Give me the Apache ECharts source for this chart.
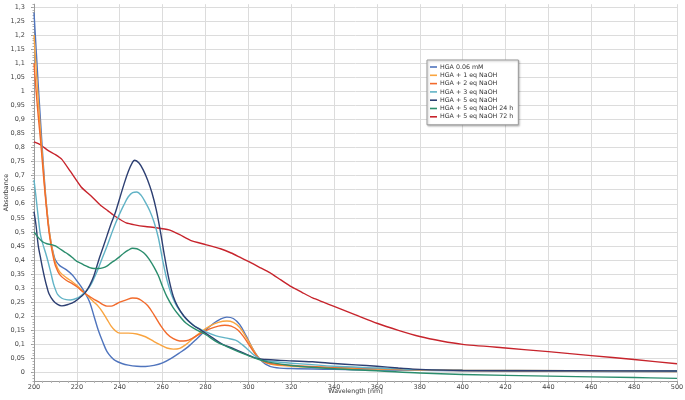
<!DOCTYPE html>
<html>
<head>
<meta charset="utf-8">
<script src="https://cdn.jsdelivr.net/npm/echarts@6/dist/echarts.min.js"></script>
<style>html,body{margin:0;padding:0;background:#fff;}#c{width:685px;height:400px;}</style>
</head>
<body>
<div id="c"></div>
<script>
const seriesNames = ["HGA 0.06 mM","HGA + 1 eq NaOH","HGA + 2 eq NaOH","HGA + 3 eq NaOH","HGA + 5 eq NaOH","HGA + 5 eq NaOH 24 h","HGA + 5 eq NaOH 72 h"];
const xTicks = [200,220,240,260,280,300,320,340,360,380,400,420,440,460,480,500];
const yTicks = [0,0.05,0.1,0.15,0.2,0.25,0.3,0.35,0.4,0.45,0.5,0.55,0.6,0.65,0.7,0.75,0.8,0.85,0.9,0.95,1,1.05,1.1,1.15,1.2,1.25,1.3];

const hga006 = [[200,1.28],[201,1.15],[202,1.02],[203,0.9],[204,0.78],[205,0.67],[206,0.58],[207,0.51],[208,0.46],[209,0.425],[210,0.4],[212,0.38],[215,0.366],[218,0.346],[220,0.326],[222,0.305],[224,0.28],[226,0.25],[228,0.2],[230,0.15],[232,0.11],[234,0.075],[236,0.055],[238,0.042],[241,0.032],[244,0.026],[248,0.022],[252,0.021],[256,0.025],[260,0.034],[264,0.05],[268,0.07],[272,0.092],[276,0.12],[280,0.15],[284,0.176],[287,0.19],[290,0.197],[293,0.192],[296,0.17],[299,0.13],[302,0.085],[305,0.05],[308,0.03],[312,0.018],[320,0.014],[340,0.011],[360,0.009],[400,0.006],[450,0.004],[500,0.003]];
const eq1 = [[200,1.2],[201,1.08],[202,0.97],[203,0.86],[204,0.76],[205,0.66],[206,0.58],[207,0.51],[208,0.46],[209,0.42],[210,0.39],[212,0.358],[215,0.338],[218,0.322],[220,0.31],[222,0.295],[224,0.28],[226,0.265],[228,0.25],[230,0.235],[232,0.215],[234,0.19],[236,0.165],[238,0.148],[240,0.14],[244,0.14],[248,0.137],[252,0.127],[256,0.11],[259,0.098],[262,0.087],[265,0.083],[268,0.086],[271,0.1],[274,0.12],[278,0.145],[282,0.165],[286,0.178],[290,0.183],[293,0.178],[296,0.16],[299,0.125],[302,0.085],[305,0.05],[308,0.035],[312,0.027],[320,0.022],[340,0.016],[360,0.012],[380,0.009],[400,0.007],[450,0.005],[500,0.003]];
const eq2 = [[200,1.1],[201,1.0],[202,0.91],[203,0.83],[204,0.74],[205,0.65],[206,0.57],[207,0.5],[208,0.45],[209,0.41],[210,0.38],[212,0.348],[215,0.328],[218,0.315],[220,0.305],[222,0.292],[224,0.28],[226,0.27],[228,0.26],[230,0.252],[232,0.242],[234,0.236],[236,0.236],[238,0.242],[240,0.25],[243,0.258],[246,0.265],[248,0.264],[250,0.257],[253,0.238],[256,0.205],[259,0.168],[262,0.138],[265,0.12],[268,0.112],[271,0.113],[274,0.122],[278,0.14],[282,0.155],[286,0.165],[289,0.168],[292,0.165],[295,0.152],[298,0.125],[301,0.09],[304,0.058],[307,0.04],[310,0.032],[320,0.025],[340,0.018],[360,0.014],[380,0.01],[400,0.008],[450,0.006],[500,0.005]];
const eq3 = [[200,0.685],[201,0.62],[202,0.55],[203,0.49],[204,0.46],[206,0.41],[208,0.35],[209,0.318],[210,0.295],[211,0.278],[213,0.264],[215,0.259],[217,0.258],[220,0.264],[222,0.274],[224,0.287],[226,0.305],[228,0.335],[230,0.37],[232,0.41],[234,0.448],[236,0.49],[238,0.53],[240,0.565],[242,0.597],[244,0.625],[246,0.64],[248,0.642],[250,0.63],[252,0.605],[254,0.575],[256,0.535],[258,0.48],[260,0.4],[262,0.33],[264,0.28],[266,0.245],[268,0.22],[271,0.19],[275,0.165],[280,0.145],[285,0.13],[290,0.122],[294,0.115],[297,0.1],[300,0.08],[303,0.06],[306,0.046],[310,0.04],[320,0.033],[340,0.022],[360,0.016],[380,0.01],[400,0.008],[450,0.006],[500,0.005]];
const eq5 = [[200,0.572],[201,0.52],[202,0.45],[203,0.41],[204,0.37],[205,0.335],[206,0.305],[207,0.28],[209,0.255],[211,0.242],[213,0.237],[216,0.242],[219,0.252],[222,0.27],[224,0.285],[226,0.31],[228,0.345],[230,0.395],[232,0.44],[234,0.485],[236,0.53],[238,0.57],[240,0.62],[242,0.67],[244,0.715],[246,0.748],[247,0.755],[249,0.745],[251,0.72],[253,0.685],[255,0.64],[257,0.58],[259,0.5],[261,0.41],[263,0.33],[265,0.27],[267,0.235],[270,0.2],[274,0.17],[278,0.15],[283,0.125],[288,0.1],[292,0.088],[296,0.075],[300,0.062],[304,0.05],[308,0.046],[315,0.043],[330,0.038],[340,0.032],[350,0.027],[360,0.022],[370,0.016],[380,0.011],[400,0.007],[450,0.006],[500,0.005]];
const eq5h24 = [[200,0.5],[202,0.48],[204,0.465],[206,0.458],[208,0.455],[210,0.45],[212,0.44],[214,0.43],[216,0.42],[218,0.408],[220,0.395],[222,0.388],[224,0.38],[226,0.373],[228,0.37],[230,0.37],[232,0.372],[234,0.378],[236,0.39],[238,0.4],[240,0.412],[242,0.425],[244,0.435],[246,0.442],[248,0.44],[250,0.432],[252,0.42],[254,0.4],[256,0.375],[258,0.345],[260,0.305],[262,0.27],[265,0.23],[268,0.2],[271,0.175],[275,0.155],[280,0.135],[285,0.11],[290,0.092],[295,0.075],[300,0.06],[305,0.046],[310,0.036],[320,0.025],[340,0.013],[360,0.006],[380,-0.002],[400,-0.007],[440,-0.013],[480,-0.018],[500,-0.021]];
const eq5h72 = [[200,0.82],[203,0.81],[206.5,0.79],[210,0.775],[213,0.758],[217,0.715],[222,0.66],[227,0.625],[231,0.595],[234.5,0.575],[237,0.56],[240,0.545],[243,0.532],[247,0.525],[252,0.519],[257,0.515],[263,0.507],[268,0.49],[273,0.47],[280,0.455],[287,0.44],[292,0.425],[296,0.41],[300,0.395],[305,0.375],[310,0.355],[315,0.33],[320,0.305],[325,0.285],[330,0.265],[335,0.25],[340,0.235],[350,0.205],[360,0.175],[370,0.15],[380,0.128],[390,0.112],[400,0.1],[420,0.087],[440,0.074],[460,0.06],[480,0.046],[500,0.031]];

const seriesData = [hga006, eq1, eq2, eq3, eq5, eq5h24, eq5h72];
const colors = ["#4f74bd","#f9a43f","#f26a2b","#61b3c6","#2d3f72","#2b8d6d","#c7242c"];

const chart = echarts.init(document.getElementById('c'), null, {renderer:'canvas'});
const fmt = v => String(Math.round(v*100)/100).replace('.', ',');
const minorY = [];
for (let i = -3; i <= 131; i++) minorY.push(i/100);

const option = {
  animation: false,
  backgroundColor: '#fff',
  color: colors,
  grid: {left: 34, right: 8, top: 4.2, bottom: 19.1, containLabel: false, outerBoundsMode: 'none'},
  legend: {
    orient: 'vertical', left: 427, top: 60,
    padding: [3, 5, 4, 3], itemGap: 0.3,
    itemWidth: 7, itemHeight: 1.6, icon: 'rect',
    backgroundColor: '#fff', borderColor: '#9a9a9a', borderWidth: 1,
    shadowColor: 'rgba(0,0,0,0.25)', shadowBlur: 2, shadowOffsetX: 1, shadowOffsetY: 1,
    textStyle: {fontSize: 6.3, fontFamily: 'DejaVu Sans', color: '#333', lineHeight: 8, padding: [0,0,0,-2]},
    data: seriesNames
  },
  xAxis: {
    type: 'value', min: 200, max: 500, interval: 20,
    name: 'Wavelength [nm]', nameLocation: 'middle', nameGap: 7, nameMoveOverlap: false,
    nameTextStyle: {fontSize: 6.3, fontFamily: 'DejaVu Sans', color: '#333'},
    axisLine: {onZero: false, lineStyle: {color: '#9a9a9a', width: 1}},
    axisTick: {show: true, length: 3, lineStyle: {color: '#9a9a9a'}},
    minorTick: {show: true, splitNumber: 5, length: 2, lineStyle: {color: '#b0b0b0'}},
    axisLabel: {fontSize: 6.5, fontFamily: 'DejaVu Sans', color: '#444', margin: 3, customValues: xTicks},
    splitLine: {show: true, lineStyle: {color: '#dcdcdc', width: 1}}
  },
  yAxis: [{
    type: 'value', min: -0.03, max: 1.31,
    name: 'Absorbance', nameLocation: 'middle', nameGap: 25, nameRotate: 90, nameMoveOverlap: false,
    nameTextStyle: {fontSize: 6.3, fontFamily: 'DejaVu Sans', color: '#333'},
    axisLine: {show: true, lineStyle: {color: '#9a9a9a', width: 1}},
    axisTick: {show: true, length: 3, lineStyle: {color: '#9a9a9a'}, customValues: yTicks},
    axisLabel: {fontSize: 6.5, fontFamily: 'DejaVu Sans', color: '#444', margin: 9, customValues: yTicks, formatter: fmt},
    splitLine: {show: true, lineStyle: {color: '#dcdcdc', width: 1}}
  }, {
    type: 'value', min: -0.03, max: 1.31, position: 'left',
    axisLine: {show: false},
    axisTick: {show: true, length: 1.5, lineStyle: {color: '#b0b0b0'}, customValues: minorY},
    axisLabel: {show: false, customValues: minorY},
    splitLine: {show: false}
  }],
  series: seriesNames.map((n, i) => ({
    name: n, type: 'line', data: seriesData[i], yAxisIndex: 0,
    showSymbol: false, symbol: 'none', smooth: i === 6 ? 0.15 : 0.35,
    lineStyle: {width: 1.4, color: colors[i]},
    z: 10 - (i === 6 ? 5 : 0)
  }))
};
chart.setOption(option);
</script>
</body>
</html>
